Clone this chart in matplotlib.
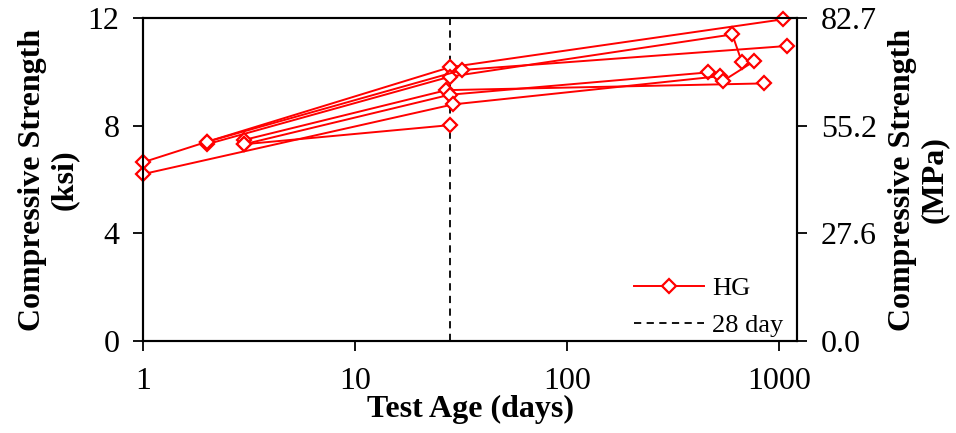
import matplotlib
matplotlib.use("Agg")
import matplotlib.pyplot as plt
import numpy as np

plt.rcParams['font.family'] = ['Liberation Serif', 'DejaVu Serif']
plt.rcParams['mathtext.fontset'] = 'stix'

# Data: HG specimens, test age (days) vs compressive strength (ksi)
age_a = [1, 2, 28, 1040]
ksi_a = [6.64, 7.40, 10.17, 11.95]
age_b = [2, 28, 602, 667]
ksi_b = [7.31, 9.82, 11.39, 10.38]
age_c = [2, 32, 1087]
ksi_c = [7.40, 10.07, 10.96]
age_d = [3, 27, 850]
ksi_d = [7.47, 9.32, 9.57]
age_e = [3, 28, 464]
ksi_e = [7.31, 9.15, 9.98]
age_f = [1, 29, 527, 546, 765]
ksi_f = [6.20, 8.79, 9.84, 9.67, 10.40]
age_g = [3, 28]
ksi_g = [7.31, 8.02]

series = [(age_a, ksi_a), (age_b, ksi_b), (age_c, ksi_c), (age_d, ksi_d),
          (age_e, ksi_e), (age_f, ksi_f), (age_g, ksi_g)]

ref_day = 28
ksi_ticks = [0, 4, 8, 12]
x_ticks = [1, 10, 100, 1000]
x_ticklabels = ['1', '10', '100', '1000']
KSI_TO_MPA = 6.894757

fig = plt.figure(figsize=(9.56, 4.33), dpi=100)
ax = fig.add_axes([0.1496, 0.2125, 0.6841, 0.7459])

for i, (a, k) in enumerate(series):
    ax.plot(a, k, color='red', lw=1.4, marker='D', ms=7.5, mfc='white',
            mec='red', mew=1.6, label='HG' if i == 0 else None, zorder=3,
            clip_on=False)

ax.axvline(ref_day, color='black', ls='--', lw=1.3, dashes=(4, 3),
           label='28 day', zorder=2)

ax.set_xscale('log')
ax.set_xlim(1, 1216)
ax.set_ylim(0, 12)
ax.set_xticks(x_ticks)
ax.set_xticklabels(x_ticklabels)
ax.minorticks_off()
ax.set_yticks(ksi_ticks)
ax.set_yticklabels([str(v) for v in ksi_ticks])

ax.tick_params(axis='both', direction='out', length=7, width=1.3,
               labelsize=23)
ax.tick_params(axis='x', pad=12)
ax.tick_params(axis='y', pad=10)
for s in ax.spines.values():
    s.set_linewidth(1.5)

ax.set_xlabel('Test Age (days)', fontsize=23, fontweight='bold', labelpad=-1)
ax.set_ylabel('Compressive Strength\n(ksi)', fontsize=23, fontweight='bold',
              labelpad=6, linespacing=1.15)

ax2 = ax.twinx()
ax2.set_ylim(0, 12)
ax2.set_yticks(ksi_ticks)
ax2.set_yticklabels([f'{v * KSI_TO_MPA:.1f}' for v in ksi_ticks])
ax2.tick_params(axis='y', direction='out', length=7, width=1.3,
                labelsize=23, pad=10)
for s in ax2.spines.values():
    s.set_linewidth(1.5)
ax2.set_ylabel('Compressive Strength\n(MPa)', fontsize=23, fontweight='bold',
               labelpad=8, linespacing=1.15)

leg = ax.legend(loc='lower right', bbox_to_anchor=(0.995, -0.02),
                frameon=False, fontsize=19, handlelength=2.65,
                handletextpad=0.3, borderaxespad=0.0, labelspacing=0.5)

fig.savefig('out.png', dpi=100)
